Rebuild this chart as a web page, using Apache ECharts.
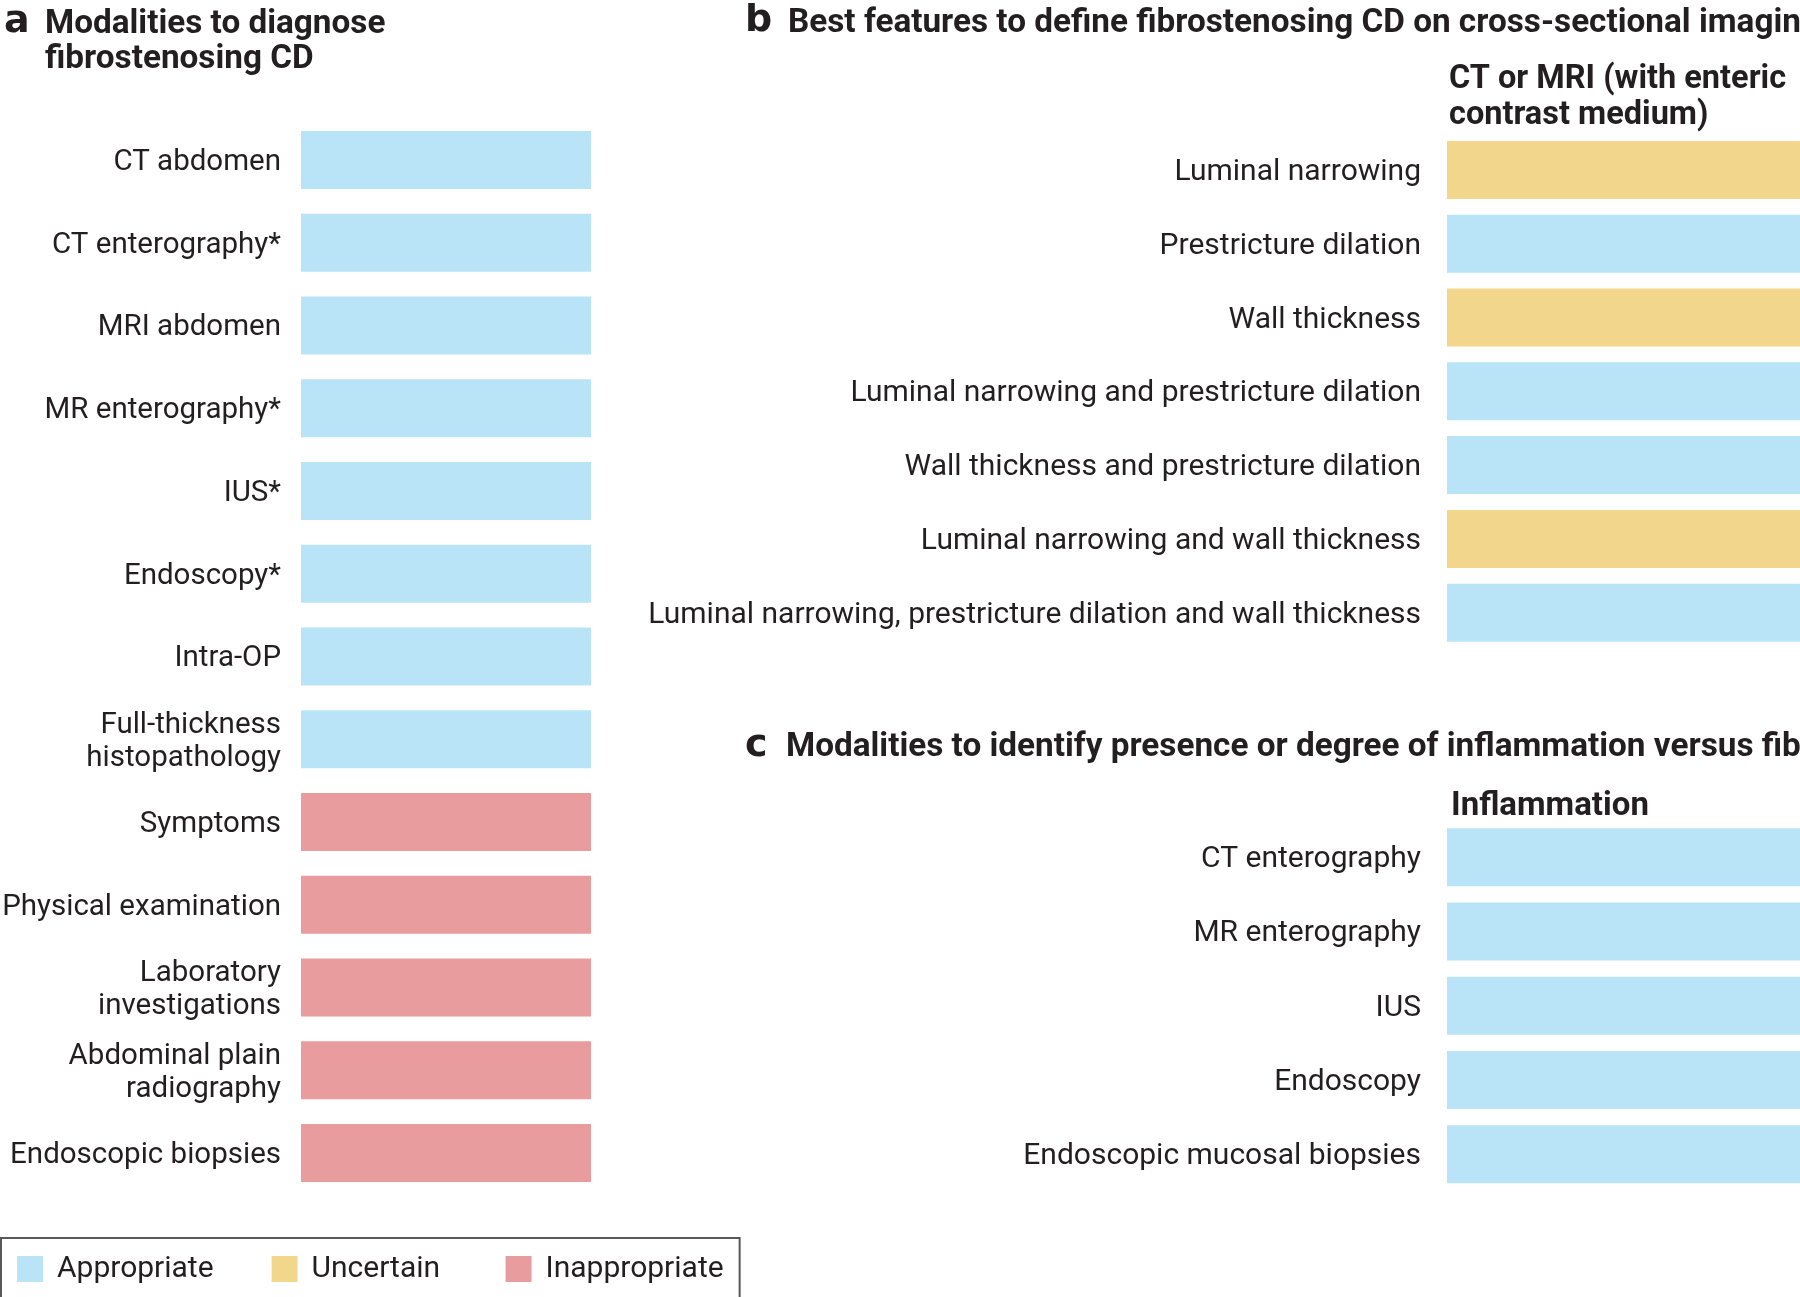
<!DOCTYPE html>
<html><head><meta charset="utf-8">
<script src="https://cdn.jsdelivr.net/npm/echarts@6/dist/echarts.min.js"></script>
<style>html,body{margin:0;padding:0;background:#fff}#c{width:1800px;height:1297px}</style>
</head><body><div id="c"></div>
<script>
const statuses = ['Appropriate', 'Uncertain', 'Inappropriate'];
const statusColors = ['#b9e4f8', '#f1d68b', '#e89c9e'];

const catsA = ['CT abdomen', 'CT enterography*', 'MRI abdomen', 'MR enterography*', 'IUS*', 'Endoscopy*', 'Intra-OP',
  'Full-thickness\nhistopathology', 'Symptoms', 'Physical examination', 'Laboratory\ninvestigations',
  'Abdominal plain\nradiography', 'Endoscopic biopsies'];
const statusA = ['Appropriate', 'Appropriate', 'Appropriate', 'Appropriate', 'Appropriate', 'Appropriate', 'Appropriate',
  'Appropriate', 'Inappropriate', 'Inappropriate', 'Inappropriate', 'Inappropriate', 'Inappropriate'];

const catsB = ['Luminal narrowing', 'Prestricture dilation', 'Wall thickness', 'Luminal narrowing and prestricture dilation',
  'Wall thickness and prestricture dilation', 'Luminal narrowing and wall thickness',
  'Luminal narrowing, prestricture dilation and wall thickness'];
const statusB = ['Uncertain', 'Appropriate', 'Uncertain', 'Appropriate', 'Appropriate', 'Uncertain', 'Appropriate'];

const catsC = ['CT enterography', 'MR enterography', 'IUS', 'Endoscopy', 'Endoscopic mucosal biopsies'];
const statusC = ['Appropriate', 'Appropriate', 'Appropriate', 'Appropriate', 'Appropriate'];

const txt = '#231f20';
const FONT = 'Roboto, "Noto Sans", sans-serif';
const panels = [
  {cats: catsA, status: statusA},
  {cats: catsB, status: statusB},
  {cats: catsC, status: statusC}
];

const grids = [
  {left: 301, width: 290, top: 118.5, height: 1076},
  {left: 1447, right: 0, top: 133, height: 516.6},
  {left: 1447, right: 0, top: 820, height: 371.5}
];
const margins = [20, 26, 26];
const labelSizes = [29.5, 30, 30];

const xAxis = grids.map((g, i) => ({gridIndex: i, type: 'value', min: 0, max: 1, show: false}));
const yAxis = panels.map((p, i) => ({
  gridIndex: i, type: 'category', inverse: true, data: p.cats,
  axisLine: {show: false}, axisTick: {show: false}, splitLine: {show: false},
  axisLabel: {
    fontSize: labelSizes[i], color: txt, fontFamily: FONT, margin: margins[i], align: 'right',
    formatter: v => v.split('\n').map(l => '{t|' + l + '}').join('\n'),
    rich: {t: {fontSize: labelSizes[i], color: txt, fontFamily: FONT, lineHeight: 33, padding: [5, 0, 0, 0], align: 'right'}}
  }
}));

const series = [];
panels.forEach((p, gi) => {
  statuses.forEach((s, si) => {
    series.push({
      name: s, type: 'bar', xAxisIndex: gi, yAxisIndex: gi, stack: 'g' + gi,
      barWidth: 58, itemStyle: {color: statusColors[si]},
      data: p.status.map(v => v === s ? 1 : '-'),
      silent: true
    });
  });
});

const boldT = {fontSize: 33.3, fontWeight: 'bold', color: txt, fontFamily: FONT, lineHeight: 35};
const headT = {fontSize: 32.5, fontWeight: 'bold', color: txt, fontFamily: FONT, lineHeight: 36};
const letterT = {fontSize: 38, fontWeight: 900, color: txt, fontFamily: '"DejaVu Sans", sans-serif', lineHeight: 35};

const option = {
  animation: false,
  backgroundColor: '#fff',
  title: [
    {text: 'a', left: 4, top: 5, padding: 0, textStyle: letterT},
    {text: 'Modalities to diagnose\nfibrostenosing CD', left: 45, top: 7, padding: 0, textStyle: boldT},
    {text: 'b', left: 745, top: 4, padding: 0, textStyle: letterT},
    {text: 'Best features to define fibrostenosing CD on cross-sectional imaging', left: 788, top: 6, padding: 0, textStyle: boldT},
    {text: 'CT or MRI (with enteric\ncontrast medium)', left: 1449, top: 62, padding: 0, textStyle: headT},
    {text: 'c', left: 745, top: 729, padding: 0, textStyle: letterT},
    {text: 'Modalities to identify presence or degree of inflammation versus fibrosis', left: 786, top: 730, padding: 0, textStyle: boldT},
    {text: 'Inflammation', left: 1451, top: 789, padding: 0, textStyle: Object.assign({}, headT, {fontSize: 33})}
  ],
  legend: {
    data: statuses,
    formatter: n => n === 'Uncertain' ? n + ' ' : n,
    left: 1, top: 1238, orient: 'horizontal',
    itemWidth: 26, itemHeight: 26, itemGap: 58, icon: 'rect',
    padding: [16, 16, 16, 16], borderColor: '#58595b', borderWidth: 2,
    selectedMode: false,
    textStyle: {fontSize: 30, color: txt, fontFamily: FONT, padding: [0, 0, 0, 9]}
  },
  grid: grids.map(g => Object.assign({containLabel: false, outerBoundsMode: 'none'}, g)),
  xAxis, yAxis, series
};

const chart = echarts.init(document.getElementById('c'));
chart.setOption(option);
</script></body></html>
